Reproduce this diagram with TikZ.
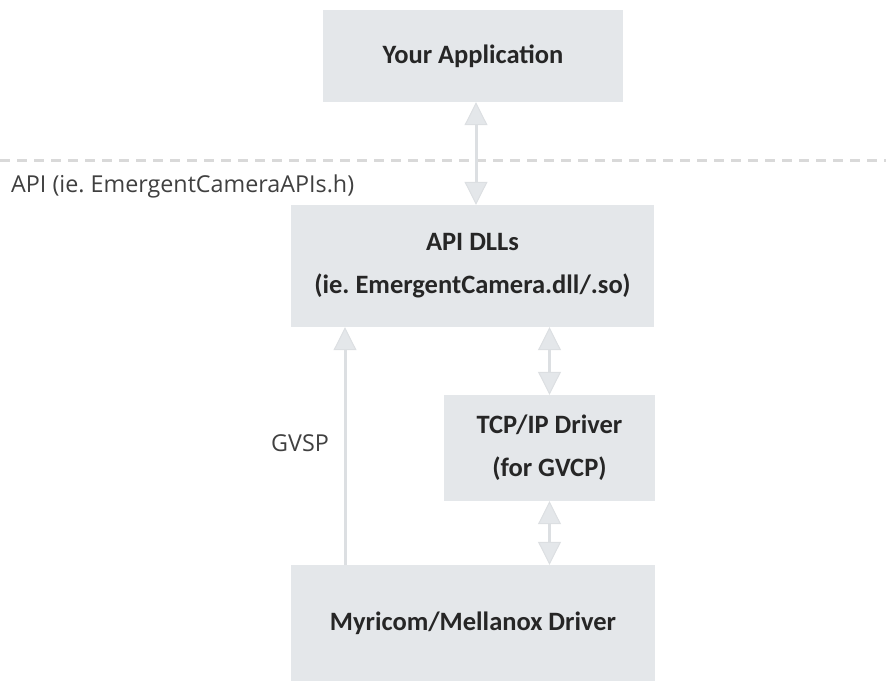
\documentclass[tikz,border=0pt]{standalone}
\usepackage{fontspec}
\setmainfont{Open Sans}
\newfontfamily\boxfont{Carlito}
\usepackage{tikz}
\usetikzlibrary{arrows.meta,calc,positioning}
\definecolor{boxgray}{HTML}{E4E7EA}
\definecolor{linegray}{HTML}{DCDFE2}
\definecolor{dashgray}{HTML}{D9D9D9}
\definecolor{labelgray}{HTML}{404040}
\frenchspacing

\begin{document}
\begin{tikzpicture}[x=1pt,y=-1pt,
    blk/.style={fill=boxgray,inner sep=0pt,align=center,text=black!85,
      font=\boxfont\bfseries\fontsize{26.5}{43}\selectfont},
    lbl/.style={inner sep=0pt,text=labelgray,font=\fontsize{23.3}{28}\selectfont},
    tri/.tip={Triangle[width=23pt,length=23pt,fill=boxgray,line width=1pt]},
    arr/.style={draw=linegray,line width=3pt,tri-tri},
    arrup/.style={draw=linegray,line width=3pt,-tri}]
      \useasboundingbox (0,0) rectangle (886,681);

      \node[blk,minimum width=300pt,minimum height=92pt] (app) at (473,56) {Your Application};
      \node[blk,minimum width=363pt,minimum height=122pt] (dll) at (472.5,266) {API DLLs\\(ie. EmergentCamera.dll/.so)};
      \node[blk,minimum width=211pt,minimum height=106pt] (tcp) at (549.5,448) {TCP/IP Driver\\(for GVCP)};
      \node[blk,minimum width=364pt,minimum height=116pt] (myr) at (473,623) {Myricom/Mellanox Driver};

      \coordinate (dashL) at (0,160);
      \coordinate (dashR) at (886,160);
      \draw[dashgray,line width=3pt,dash pattern=on 10pt off 7pt] (dashL) -- (dashR);

      \node[lbl,anchor=west] (api) at (11,186) {API (ie. EmergentCameraAPIs.h)};
      \node[lbl] (gvsp) at (300,443) {GVSP};

      \draw[arr] ([xshift=3pt]app.south) -- ([xshift=3pt]app.south |- dll.north);
      \draw[arr] (tcp.north |- dll.south) -- (tcp.north);
      \draw[arr] (tcp.south) -- (tcp.south |- myr.north);
      \draw[arrup] ([xshift=-128pt]myr.north) -- ([xshift=-128pt]myr.north |- dll.south);
     \end{tikzpicture}
\end{document}
